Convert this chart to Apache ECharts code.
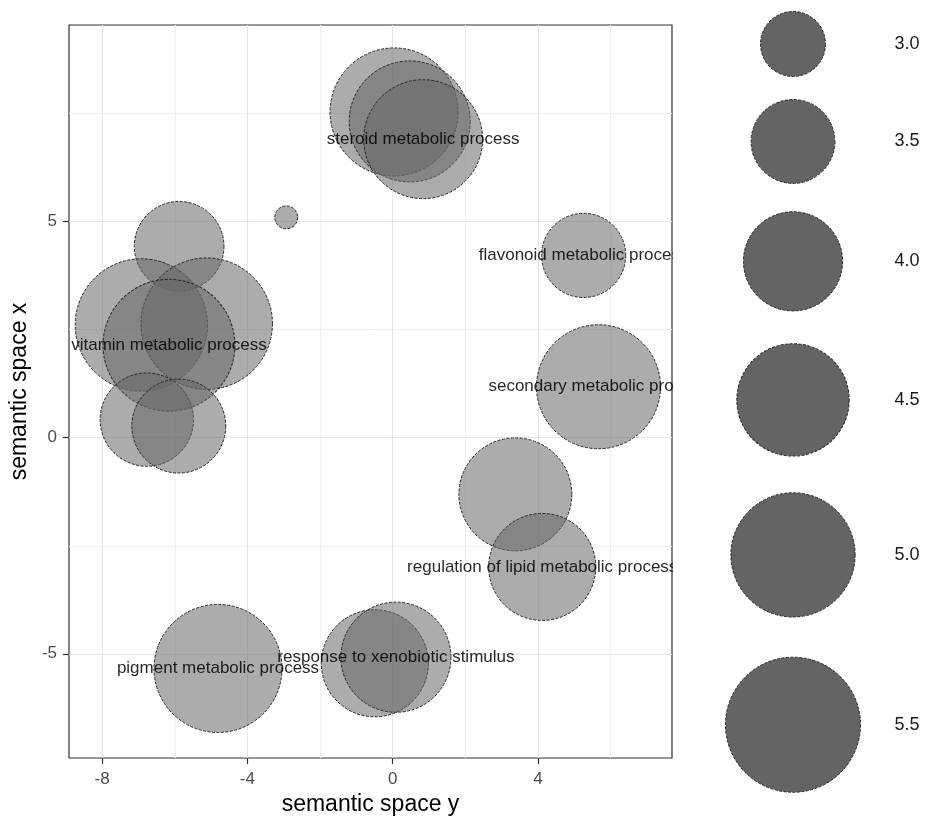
<!DOCTYPE html>
<html><head><meta charset="utf-8">
<script src="https://cdn.jsdelivr.net/npm/echarts@6/dist/echarts.min.js"></script>
<style>html,body{margin:0;padding:0;background:#fff}#c{width:926px;height:821px}</style>
</head><body><div id="c"></div>
<script>
// term labels (only representative terms are labelled)
const labels = [
  '', '', 'steroid metabolic process', '',
  '', '', '', 'vitamin metabolic process', '', '',
  'flavonoid metabolic process', 'secondary metabolic process',
  '', 'regulation of lipid metabolic process',
  'pigment metabolic process', '', 'response to xenobiotic stimulus'
];
// semantic space y (horizontal axis)
const semanticY = [0.04, 0.47, 0.84, -2.93, -5.88, -6.92, -5.12, -6.16, -6.77, -5.89, 5.26, 5.67, 3.38, 4.12, -4.81, -0.49, 0.09];
// semantic space x (vertical axis)
const semanticX = [7.54, 7.32, 6.91, 5.10, 4.43, 2.61, 2.64, 2.14, 0.42, 0.27, 4.22, 1.18, -1.31, -2.99, -5.34, -5.22, -5.08];
// log size
const logSize = [5.17, 4.86, 4.77, 2.34, 3.68, 5.37, 5.33, 5.35, 3.80, 3.82, 3.51, 4.99, 4.52, 4.29, 5.17, 4.29, 4.41];

const legendValues = [3.0, 3.5, 4.0, 4.5, 5.0, 5.5];
const xMajorTicks = [-8, -4, 0, 4];
const xMinorTicks = [-6, -2, 2, 6];
const yMajorTicks = [-5, 0, 5];
const yMinorTicks = [-2.5, 2.5, 7.5];

const FONT = "'Liberation Sans', Arial, sans-serif";
// area-proportional size scale
function diameter(v) { return 2 * Math.sqrt(Math.max(1401.6 * v - 3148.8, 1)); }

// legend key layout derived from the size scale
const legendCenters = [];
let yc = 44;
legendValues.forEach((v, i) => {
  if (i > 0) yc += 1.31 * (diameter(legendValues[i - 1]) + diameter(v)) / 2;
  legendCenters.push(yc);
});

const bubbleData = semanticY.map((x, i) => ({ value: [x, semanticX[i], logSize[i]], name: labels[i] }));
const legendData = legendValues.map((v, i) => ({ value: [0.5, legendCenters[i], v] }));

const chart = echarts.init(document.getElementById('c'), null, { renderer: 'canvas' });
const borderStyle = { borderColor: '#262626', borderWidth: 1, borderType: [3, 1.5], opacity: 1 };

chart.setOption({
  animation: false,
  backgroundColor: '#fff',
  textStyle: { fontFamily: FONT },
  grid: [
    { left: 67, top: 25, width: 605, height: 734, show: true, borderColor: '#333', borderWidth: 1.2, backgroundColor: '#fff', containLabel: false },
    { left: 743, top: 0, width: 100, height: 821, show: false }
  ],
  xAxis: [
    {
      gridIndex: 0, type: 'value', min: -8.913, max: 7.694, position: 'bottom',
      name: 'semantic space y', nameLocation: 'middle', nameGap: 35,
      nameTextStyle: { fontSize: 23, color: '#000', fontFamily: FONT },
      axisLine: { show: false, onZero: false },
      axisTick: { show: true, length: 6, lineStyle: { color: '#333', width: 1.2 }, customValues: xMajorTicks },
      axisLabel: { customValues: xMajorTicks, fontSize: 17, color: '#4d4d4d', margin: 13, fontFamily: FONT },
      splitLine: { show: true, lineStyle: { color: '#e6e6e6', width: 1.2 } }
    },
    {
      gridIndex: 0, type: 'value', min: -8.913, max: 7.694, position: 'bottom',
      axisLine: { show: false, onZero: false },
      axisTick: { show: false, customValues: xMinorTicks },
      axisLabel: { show: false, customValues: xMinorTicks },
      splitLine: { show: true, lineStyle: { color: '#f0f0f0', width: 1 } }
    },
    { gridIndex: 1, type: 'value', min: 0, max: 1, show: false, splitLine: { show: false } }
  ],
  yAxis: [
    {
      gridIndex: 0, type: 'value', min: -7.412, max: 9.552, position: 'left',
      name: 'semantic space x', nameLocation: 'middle', nameGap: 31,
      nameTextStyle: { fontSize: 23, color: '#000', fontFamily: FONT },
      axisLine: { show: false, onZero: false },
      axisTick: { show: true, length: 6, lineStyle: { color: '#333', width: 1.2 }, customValues: yMajorTicks },
      axisLabel: { customValues: yMajorTicks, fontSize: 17, color: '#4d4d4d', margin: 12, fontFamily: FONT },
      splitLine: { show: true, lineStyle: { color: '#e6e6e6', width: 1.2 } }
    },
    {
      gridIndex: 0, type: 'value', min: -7.412, max: 9.552, position: 'left',
      axisLine: { show: false, onZero: false },
      axisTick: { show: false, customValues: yMinorTicks },
      axisLabel: { show: false, customValues: yMinorTicks },
      splitLine: { show: true, lineStyle: { color: '#f0f0f0', width: 1 } }
    },
    { gridIndex: 1, type: 'value', min: 0, max: 821, inverse: true, show: false, splitLine: { show: false } }
  ],
  series: [
    {
      type: 'scatter', xAxisIndex: 0, yAxisIndex: 0,
      data: bubbleData,
      symbol: 'circle',
      symbolSize: (val) => diameter(val[2]),
      itemStyle: Object.assign({}, borderStyle, { color: 'rgba(102,102,102,0.54)' }),
      label: {
        show: true, position: 'inside', formatter: (p) => p.name,
        fontSize: 17, color: 'rgba(0,0,0,0.85)', fontFamily: FONT
      },
      emphasis: { disabled: true },
      clip: false, z: 3
    },
    {
      type: 'scatter', xAxisIndex: 2, yAxisIndex: 2,
      data: legendData,
      symbol: 'circle',
      symbolSize: (val) => diameter(val[2]),
      itemStyle: Object.assign({}, borderStyle, { color: '#646464' }),
      label: {
        show: true, position: 'inside', offset: [114, 0],
        formatter: (p) => p.value[2].toFixed(1),
        fontSize: 18, color: '#1a1a1a', fontFamily: FONT
      },
      emphasis: { disabled: true },
      clip: false
    }
  ],
  graphic: [
    { type: 'rect', z: 100, shape: { x: 673, y: 0, width: 50, height: 821 }, style: { fill: '#fff' } }
  ]
});
</script>
</body></html>
